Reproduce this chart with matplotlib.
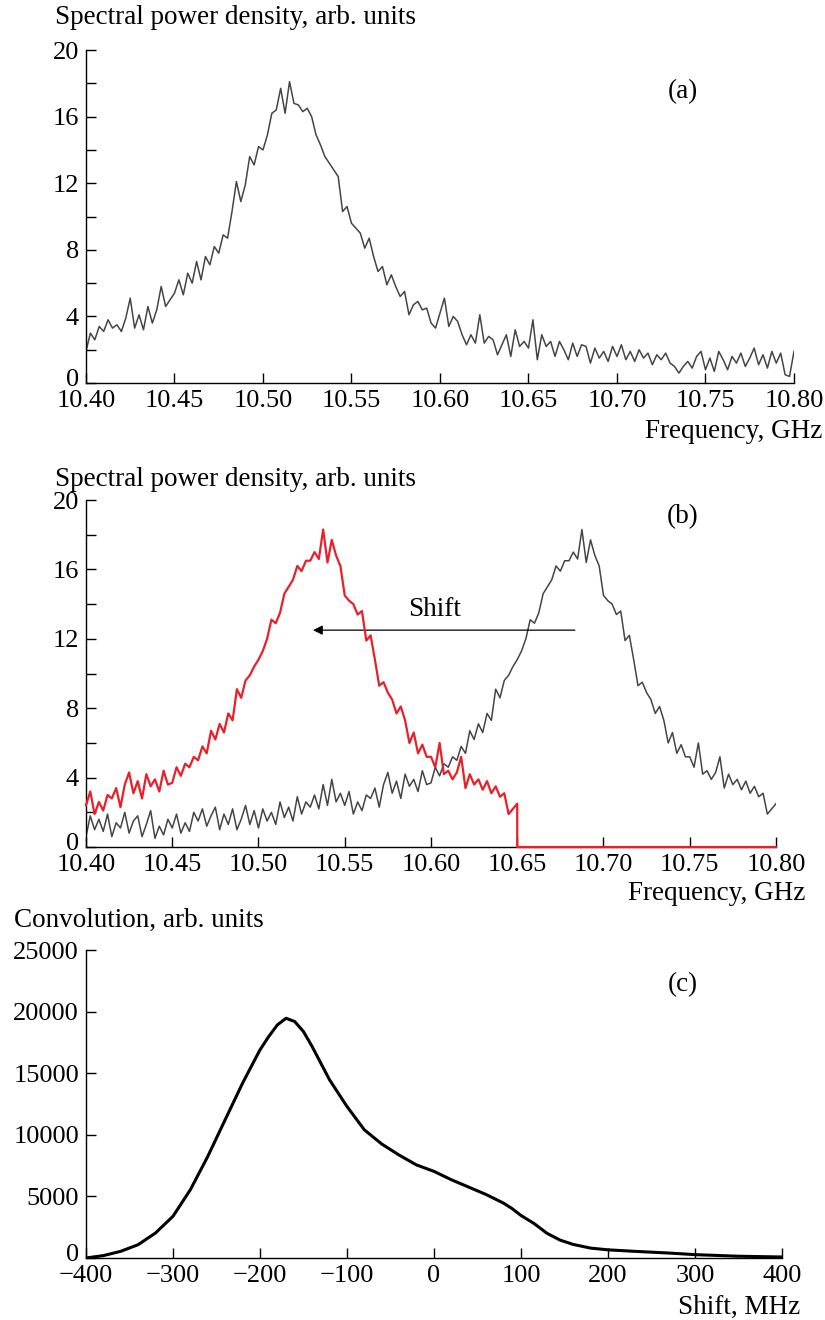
import numpy as np
import matplotlib
matplotlib.use("Agg")
import matplotlib.pyplot as plt
import matplotlib.transforms as mtransforms

plt.rcParams['font.family'] = ['Liberation Serif', 'DejaVu Serif']
plt.rcParams['font.size'] = 19

# panel (a): spectrum, 10.40..10.80 GHz, step 2.5 MHz
spd_a = [
    1.9, 3.0, 2.6, 3.4,
    3.1, 3.8, 3.3, 3.5,
    3.1, 3.9, 5.1, 3.3,
    4.1, 3.2, 4.6, 3.6,
    4.4, 5.8, 4.6, 5.0,
    5.4, 6.2, 5.3, 6.6,
    6.0, 7.3, 6.2, 7.6,
    7.1, 8.2, 7.8, 8.9,
    8.7, 10.3, 12.1, 10.9,
    11.9, 13.6, 13.1, 14.2,
    14.0, 14.9, 16.2, 16.4,
    17.7, 16.2, 18.1, 16.8,
    16.7, 16.3, 16.5, 16.0,
    14.9, 14.3, 13.6, 13.2,
    12.8, 12.4, 10.3, 10.6,
    9.6, 9.3, 9.0, 8.1,
    8.7, 7.6, 6.7, 7.0,
    5.9, 6.5, 5.8, 5.2,
    5.5, 4.1, 4.7, 4.9,
    4.4, 4.5, 3.6, 3.3,
    4.2, 5.1, 3.4, 4.0,
    3.7, 2.9, 2.3, 2.9,
    2.4, 4.1, 2.4, 2.8,
    2.6, 1.7, 2.3, 2.9,
    1.6, 3.2, 2.2, 2.5,
    2.1, 3.8, 1.4, 2.9,
    2.2, 2.5, 1.6, 2.5,
    2.0, 1.4, 2.4, 1.6,
    2.3, 2.2, 1.2, 2.1,
    1.5, 1.9, 1.3, 2.2,
    1.6, 2.3, 1.4, 1.9,
    1.3, 2.0, 1.5, 1.8,
    1.1, 1.7, 1.4, 1.8,
    1.2, 1.0, 0.6, 1.0,
    1.3, 0.9, 1.6, 1.9,
    0.8, 1.5, 0.7, 1.9,
    1.4, 0.8, 1.6, 1.2,
    1.8, 1.0, 1.5, 2.1,
    1.1, 1.7, 0.9, 1.9,
    1.2, 1.8, 0.5, 0.4,
    1.9,
]

# panel (b): second spectrum, same grid
spd_b = [
    0.6, 1.8, 1.0, 1.6,
    0.9, 1.9, 0.6, 1.4,
    1.1, 2.0, 0.8, 1.5,
    1.8, 0.6, 1.3, 2.1,
    0.5, 1.2, 0.7, 1.6,
    1.1, 1.9, 0.8, 1.4,
    0.9, 2.0, 1.5, 2.2,
    1.2, 1.8, 2.3, 1.0,
    1.9, 1.3, 2.2, 1.0,
    1.6, 2.4, 1.3, 2.1,
    1.1, 2.2, 1.5, 2.0,
    1.3, 2.6, 1.7, 2.3,
    1.5, 2.9, 1.9, 2.6,
    2.3, 3.0, 2.2, 3.6,
    2.4, 3.9, 2.6, 3.1,
    2.4, 3.2, 1.9, 2.6,
    2.1, 3.0, 2.8, 3.4,
    2.3, 3.6, 4.3, 3.1,
    3.8, 2.8, 4.2, 3.5,
    3.9, 3.2, 4.4, 3.6,
    3.7, 4.6, 4.1, 4.8,
    4.6, 5.2, 5.0, 5.8,
    5.4, 6.7, 6.2, 7.1,
    6.6, 7.7, 7.3, 9.1,
    8.6, 9.6, 9.9, 10.4,
    10.8, 11.3, 12.0, 13.1,
    12.9, 13.5, 14.6, 15.0,
    15.4, 16.2, 15.9, 16.5,
    16.5, 17.0, 16.6, 18.3,
    16.4, 17.7, 16.8, 16.2,
    14.5, 14.2, 14.0, 13.4,
    13.6, 11.9, 12.2, 10.8,
    9.3, 9.5, 8.9, 8.5,
    7.7, 8.1, 7.3, 6.0,
    6.6, 5.4, 5.9, 5.2,
    5.2, 4.6, 6.0, 4.2,
    4.4, 3.9, 4.3, 5.2,
    3.4, 4.2, 3.6, 3.9,
    3.3, 3.8, 3.1, 3.5,
    2.9, 3.1, 1.9, 2.2,
    2.5,
]
shift_ghz = 0.15

# panel (c): convolution vs shift
shift_mhz = [-400, -380, -360, -340, -320, -300, -280, -260, -240, -220, -200,
             -190, -180, -170, -160, -150, -140, -120, -100, -80, -60, -40,
             -20, 0, 20, 40, 60, 80, 90, 100, 115, 130, 145, 160, 180, 200,
             230, 270, 300, 350, 400]
conv = [0, 190, 540, 1080, 2030, 3380, 5540, 8240, 11220, 14190, 16890,
        17970, 18920, 19460, 19190, 18380, 17160, 14460, 12300, 10400, 9250,
        8350, 7550, 7030, 6350, 5750, 5150, 4450, 4000, 3450, 2800, 2000,
        1450, 1100, 800, 660, 540, 400, 270, 140, 80]

freq = np.linspace(10.40, 10.80, len(spd_a))
spd_a = np.array(spd_a)
spd_b = np.array(spd_b)

# red curve = (b) spectrum moved left by the shift, zero beyond
mask = freq >= 10.40 + shift_ghz - 1e-9
red_x = np.concatenate([freq[mask] - shift_ghz, [10.65, 10.80]])
red_y = np.concatenate([spd_b[mask], [0, 0]])

gray = '#454545'
red = '#e8202a'
fs = 19.5


def style(fig, ax, minor_y=None):
    for s in ['top', 'right']:
        ax.spines[s].set_visible(False)
    for s in ['left', 'bottom']:
        ax.spines[s].set_linewidth(1.0)
    ax.tick_params(direction='in', length=7, width=1.0, pad=5,
                   labelsize=19)
    ax.tick_params(which='minor', direction='in', length=7, width=1.0)
    if minor_y is not None:
        ax.set_yticks(minor_y, minor=True)
    # lift the "0" label a little, as in the original
    lab = ax.get_yticklabels()[0]
    lab.set_transform(lab.get_transform() + mtransforms.ScaledTranslation(
        0, 4 / 72, fig.dpi_scale_trans))


fig = plt.figure(figsize=(8.25, 13.2), dpi=100)

ax1 = fig.add_axes([0.1042, 0.7098, 0.8582, 0.2523])
ax1.plot(freq, spd_a, color=gray, lw=1.1)
ax1.set_xlim(10.40, 10.80)
ax1.set_ylim(0, 20)
ax1.set_xticks(np.arange(10.40, 10.801, 0.05))
ax1.set_xticklabels([f"{v:.2f}" for v in np.arange(10.40, 10.801, 0.05)])
ax1.set_yticks([0, 4, 8, 12, 16, 20])
style(fig, ax1, [2, 6, 10, 14, 18])
ax1.text(0.843, 0.874, "(a)", transform=ax1.transAxes, ha='center',
         va='center', fontsize=fs)
fig.text(55 / 825, 1 - 17 / 1320, "Spectral power density, arb. units",
         ha='left', va='center', fontsize=fs)
fig.text(822 / 825, 1 - 431 / 1320, "Frequency, GHz", ha='right',
         va='center', fontsize=fs)

ax2 = fig.add_axes([0.1042, 0.3583, 0.8364, 0.2629])
ax2.plot(freq, spd_b, color=gray, lw=1.1)
ax2.plot(red_x, red_y, color=red, lw=1.6, clip_on=False, zorder=5)
ax2.set_xlim(10.40, 10.80)
ax2.set_ylim(0, 20)
ax2.set_xticks(np.arange(10.40, 10.801, 0.05))
ax2.set_xticklabels([f"{v:.2f}" for v in np.arange(10.40, 10.801, 0.05)])
ax2.set_yticks([0, 4, 8, 12, 16, 20])
style(fig, ax2, [2, 6, 10, 14, 18])
ax2.annotate("", xy=(10.530, 12.5), xytext=(10.685, 12.5),
             arrowprops=dict(arrowstyle='-|>', color='black', lw=0.9,
                             mutation_scale=14))
ax2.text(10.602, 13.3, "Shift", ha='center', va='baseline', fontsize=fs)
ax2.text(0.865, 0.951, "(b)", transform=ax2.transAxes, ha='center',
         va='center', fontsize=fs)
fig.text(55 / 825, 1 - 480 / 1320, "Spectral power density, arb. units",
         ha='left', va='center', fontsize=fs)
fig.text(805 / 825, 1 - 893 / 1320, "Frequency, GHz", ha='right',
         va='center', fontsize=fs)

ax3 = fig.add_axes([0.1042, 0.0470, 0.8436, 0.2333])
ax3.plot(shift_mhz, conv, color='black', lw=2.2)
ax3.set_xlim(-400, 400)
ax3.set_ylim(0, 25000)
ax3.set_xticks(range(-400, 401, 100))
ax3.set_yticks(range(0, 25001, 5000))
style(fig, ax3)
ax3.text(0.858, 0.886, "(c)", transform=ax3.transAxes, ha='center',
         va='center', fontsize=fs)
fig.text(14 / 825, 1 - 920 / 1320, "Convolution, arb. units",
         ha='left', va='center', fontsize=fs)
fig.text(800 / 825, 1 - 1307 / 1320, "Shift, MHz", ha='right',
         va='center', fontsize=fs)

fig.savefig("out.png", dpi=100)
